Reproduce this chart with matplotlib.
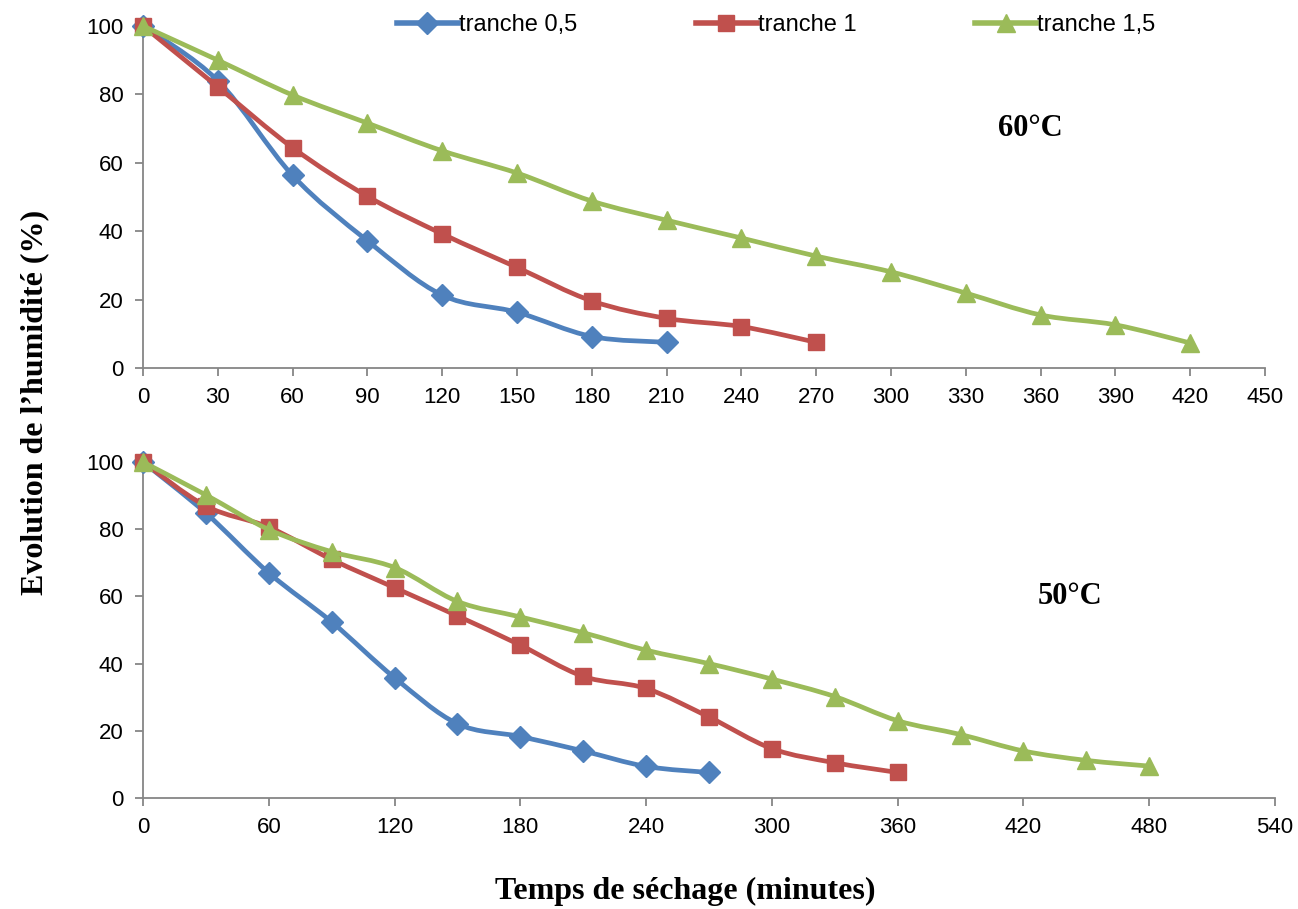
import matplotlib.pyplot as plt
from matplotlib.path import Path
from matplotlib.patches import PathPatch
from matplotlib.lines import Line2D

# data
t_60_05 = [0, 30, 60, 90, 120, 150, 180, 210]
h_60_05 = [100, 84, 56.3, 37.2, 21.3, 16.3, 9.2, 7.5]
t_60_1 = [0, 30, 60, 90, 120, 150, 180, 210, 240, 270]
h_60_1 = [100, 82.2, 64.4, 50.2, 39.2, 29.4, 19.6, 14.5, 12.1, 7.5]
t_60_15 = [0, 30, 60, 90, 120, 150, 180, 210, 240, 270, 300, 330, 360, 390, 420]
h_60_15 = [100, 90, 79.8, 71.6, 63.5, 57, 48.8, 43.2, 38, 32.7, 28.1, 21.9, 15.5, 12.6, 7.3]

t_50_05 = [0, 30, 60, 90, 120, 150, 180, 210, 240, 270]
h_50_05 = [100, 84.8, 67, 52.4, 35.8, 22.1, 18.3, 14, 9.4, 7.6]
t_50_1 = [0, 30, 60, 90, 120, 150, 180, 210, 240, 270, 300, 330, 360]
h_50_1 = [100, 86.9, 80.6, 71, 62.6, 54.2, 45.5, 36.2, 32.6, 24.1, 14.7, 10.5, 7.6]
t_50_15 = [0, 30, 60, 90, 120, 150, 180, 210, 240, 270, 300, 330, 360, 390, 420, 450, 480]
h_50_15 = [100, 90.2, 79.9, 73.3, 68.6, 58.5, 53.9, 49.2, 44, 40, 35.4, 30.2, 23, 18.9, 14, 11.2, 9.5]

labels = ["tranche 0,5", "tranche 1", "tranche 1,5"]
colors = ["#4F81BD", "#C0504D", "#9BBB59"]
markers = ["D", "s", "^"]
msizes = [11, 12, 13]

tick_font = ["Liberation Sans", "DejaVu Sans"]
gray = "#868686"
LW = 3.4


def smooth_line(ax, x, y, color, z):
    # excel-style smoothed line: bezier segments through the points
    verts = [(x[0], y[0])]
    codes = [Path.MOVETO]
    n = len(x)
    for i in range(n - 1):
        x0, y0 = (x[i - 1], y[i - 1]) if i > 0 else (x[i], y[i])
        x3, y3 = (x[i + 2], y[i + 2]) if i + 2 < n else (x[i + 1], y[i + 1])
        c1 = (x[i] + (x[i + 1] - x0) / 6, y[i] + (y[i + 1] - y0) / 6)
        c2 = (x[i + 1] - (x3 - x[i]) / 6, y[i + 1] - (y3 - y[i]) / 6)
        verts += [c1, c2, (x[i + 1], y[i + 1])]
        codes += [Path.CURVE4] * 3
    ax.add_patch(PathPatch(Path(verts, codes), fill=False, edgecolor=color, lw=LW,
                           capstyle="round", joinstyle="round", clip_on=False, zorder=z))


fig = plt.figure(figsize=(12.98, 9.09), dpi=100)
ax1 = fig.add_axes([0.1102, 0.5952, 0.8644, 0.3762])
ax2 = fig.add_axes([0.1102, 0.1221, 0.8721, 0.3696])

top = [(t_60_05, h_60_05), (t_60_1, h_60_1), (t_60_15, h_60_15)]
bot = [(t_50_05, h_50_05), (t_50_1, h_50_1), (t_50_15, h_50_15)]

handles = []
for i in range(3):
    for ax, (xs, ys) in [(ax1, top[i]), (ax2, bot[i])]:
        smooth_line(ax, xs, ys, colors[i], 3 + i)
        ax.plot(xs, ys, ls="none", color=colors[i], marker=markers[i], ms=msizes[i],
                clip_on=False, zorder=3.5 + i)
    handles.append(Line2D([], [], color=colors[i], lw=LW + 0.6, marker=markers[i],
                          ms=msizes[i], label=labels[i]))

for ax, xmax, step in [(ax1, 450, 30), (ax2, 540, 60)]:
    ax.set_xlim(0, xmax)
    ax.set_ylim(0, 100)
    ax.set_xticks(range(0, xmax + 1, step))
    ax.set_yticks(range(0, 101, 20))
    for s in ["top", "right"]:
        ax.spines[s].set_visible(False)
    for s in ["left", "bottom"]:
        ax.spines[s].set_color(gray)
        ax.spines[s].set_linewidth(1.3)
    ax.tick_params(direction="out", length=6, width=1.3, color=gray, labelsize=16, pad=8)
    for lab in ax.get_xticklabels() + ax.get_yticklabels():
        lab.set_family(tick_font)

ax1.text(356, 70, "60°C", fontsize=22, fontweight="bold", family="Liberation Serif",
         ha="center", va="center")
ax2.text(442, 60, "50°C", fontsize=22, fontweight="bold", family="Liberation Serif",
         ha="center", va="center")

fig.text(0.027, 0.557, "Evolution de l\u2019humidité (%)", rotation=90, fontsize=23,
         fontweight="bold", family="Liberation Serif", ha="center", va="center")
fig.text(0.528, 0.019, "Temps de séchage (minutes)", fontsize=23, fontweight="bold",
         family="Liberation Serif", ha="center", va="center")

leg = fig.legend(handles=handles, loc="center", bbox_to_anchor=(0.598, 0.972), ncol=3,
                 frameon=False, handlelength=2.6, handletextpad=0.05,
                 columnspacing=5.0, prop={"family": tick_font, "size": 17})

fig.savefig("out.png", dpi=100)
